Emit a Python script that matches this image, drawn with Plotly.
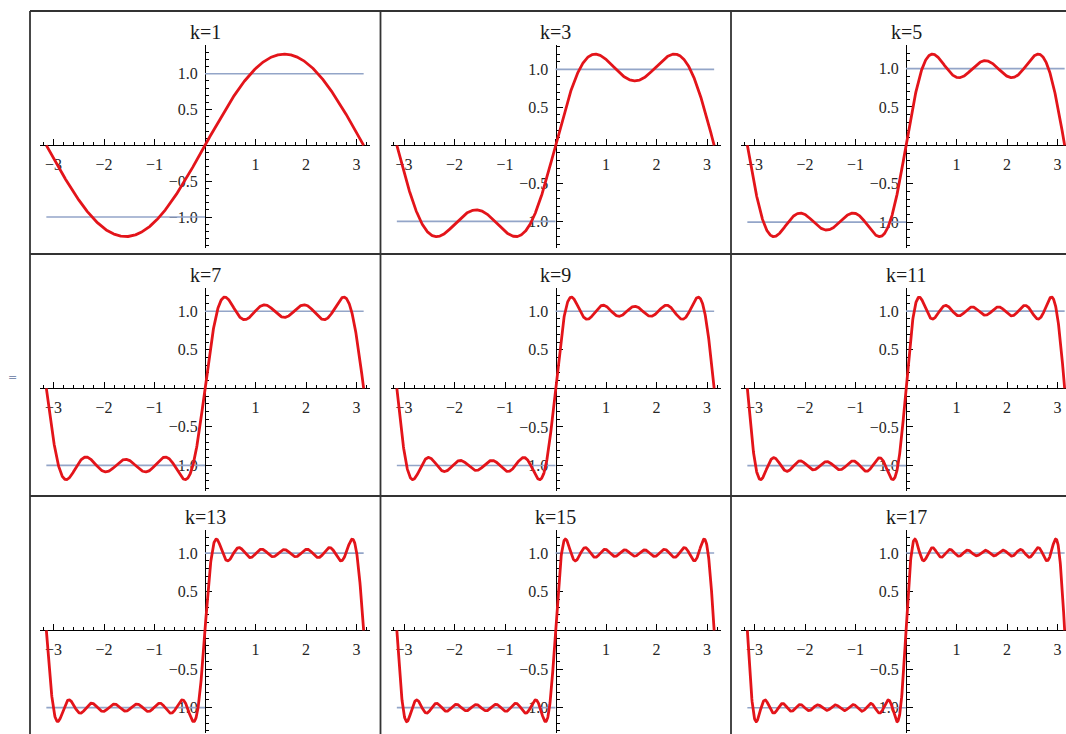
import numpy as np
import plotly.graph_objects as go

# ---- data ----
K_VALUES = [1, 3, 5, 7, 9, 11, 13, 15, 17]          # highest odd harmonic per panel
PANEL_TITLES = ["k=1", "k=3", "k=5", "k=7", "k=9", "k=11", "k=13", "k=15", "k=17"]
X_TICKS = [-3, -2, -1, 0, 1, 2, 3]
X_TICK_LABELS = ["−3", "−2", "−1", "", "1", "2", "3"]
Y_TICKS = [-1.0, -0.5, 0.0, 0.5, 1.0]
Y_TICK_LABELS = ["−1.0", "−0.5", "", "0.5", "1.0"]
SQUARE_X = [-np.pi, 0.0, None, 0.0, np.pi]            # square wave reference
SQUARE_Y = [-1.0, -1.0, None, 1.0, 1.0]

X_SAMPLES = np.linspace(-np.pi, np.pi, 1200)


def partial_sum(k):
    n = np.arange(1, k + 1, 2)
    return (4 / np.pi) * np.sum(np.sin(np.outer(n, X_SAMPLES)) / n[:, None], axis=0)


W, H = 1066, 734
COL_LEFT = [30, 380.5, 731]
ROW_TOP = [11, 254, 496]
HALF_W = 165

SERIF = "Liberation Serif"
RED = "#e3141a"
BLUE = "#93a5c8"

fig = go.Figure()
layout = dict(
    width=W, height=H,
    margin=dict(l=0, r=0, t=0, b=0),
    paper_bgcolor="white", plot_bgcolor="rgba(0,0,0,0)",
    showlegend=False,
)
shapes = []
annotations = []

for i, k in enumerate(K_VALUES):
    r, c = divmod(i, 3)
    L = COL_LEFT[c]
    T = ROW_TOP[r]
    y = partial_sum(k)
    M = float(np.max(np.abs(y)))
    ymin, ymax = -1.125 * M, 1.10 * M
    xr = np.pi * 1.04

    cx = L + 175
    left_px = cx - HALF_W
    right_px = min(cx + HALF_W, W)
    x_right = xr * (right_px - cx) / HALF_W
    xd = [left_px / W, right_px / W]
    top_px, bot_px = T + 34, min(T + 237, H)
    yd = [1 - bot_px / H, 1 - top_px / H]
    zero_pos = yd[0] + (0 - ymin) / (ymax - ymin) * (yd[1] - yd[0])

    sfx = "" if i == 0 else str(i + 1)
    xa, ya = "x" + sfx, "y" + sfx

    fig.add_trace(go.Scatter(x=SQUARE_X, y=SQUARE_Y, mode="lines",
                             line=dict(color=BLUE, width=1.6),
                             xaxis=xa, yaxis=ya, hoverinfo="skip"))
    fig.add_trace(go.Scatter(x=X_SAMPLES, y=y, mode="lines",
                             line=dict(color=RED, width=2.8),
                             xaxis=xa, yaxis=ya, hoverinfo="skip", cliponaxis=False))

    tickfont = dict(family=SERIF, size=16, color="#262626")
    layout["xaxis" + sfx] = dict(
        domain=xd, range=[-xr, x_right], anchor="free", position=zero_pos,
        showgrid=False, zeroline=False, showline=True, linecolor="black", linewidth=1,
        tickmode="array", tickvals=X_TICKS, ticktext=X_TICK_LABELS,
        ticks="inside", ticklen=6, tickwidth=1, tickcolor="black",
        minor=dict(ticks="inside", ticklen=3, tickwidth=1, tickcolor="black",
                   tickmode="linear", tick0=0, dtick=0.2, showgrid=False),
        tickfont=tickfont, ticklabelstandoff=4, layer="below traces", fixedrange=True,
    )
    layout["yaxis" + sfx] = dict(
        domain=yd, range=[ymin, ymax], anchor="free", position=(cx / W),
        showgrid=False, zeroline=False, showline=True, linecolor="black", linewidth=1,
        tickmode="array", tickvals=Y_TICKS, ticktext=Y_TICK_LABELS,
        ticks="inside", ticklen=6, tickwidth=1, tickcolor="black",
        minor=dict(ticks="inside", ticklen=3, tickwidth=1, tickcolor="black",
                   tickmode="linear", tick0=0, dtick=0.1, showgrid=False),
        tickfont=tickfont, ticklabelstandoff=4, layer="below traces", fixedrange=True,
    )

    annotations.append(dict(
        text=PANEL_TITLES[i], x=cx / W, y=1 - (T + 21) / H, xref="paper", yref="paper",
        showarrow=False, xanchor="center", yanchor="middle",
        font=dict(family=SERIF, size=20, color="#1a1a1a"),
    ))

# grid frame
line_style = dict(color="#333333", width=1.8)
for xv in COL_LEFT:
    shapes.append(dict(type="line", xref="paper", yref="paper",
                       x0=xv / W, x1=xv / W, y0=1 - ROW_TOP[0] / H, y1=-0.05, line=line_style))
for yv in ROW_TOP:
    shapes.append(dict(type="line", xref="paper", yref="paper",
                       x0=COL_LEFT[0] / W, x1=1.05, y0=1 - yv / H, y1=1 - yv / H, line=line_style))

annotations.append(dict(text="=", x=12 / W, y=1 - 377 / H, xref="paper", yref="paper",
                        showarrow=False, xanchor="center", yanchor="middle",
                        font=dict(family="DejaVu Sans", size=11, color="#7f8fb0")))

layout["shapes"] = shapes
layout["annotations"] = annotations
fig.update_layout(**layout)
fig.write_html("out.html", config={"displayModeBar": False},
               post_script="document.body.style.margin='0';document.body.style.overflow='hidden';")
